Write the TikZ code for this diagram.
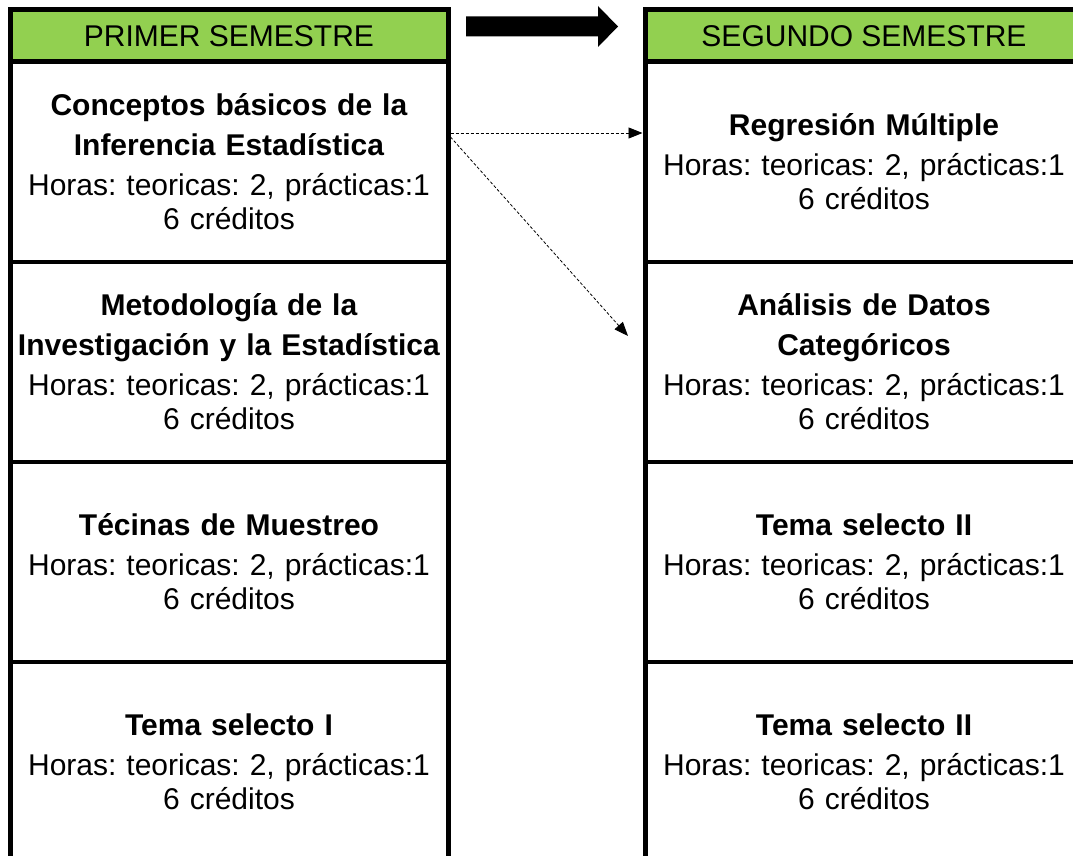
\documentclass[tikz,border=0pt]{standalone}
\usepackage{fontspec}
\setmainfont{Liberation Sans}
\usetikzlibrary{arrows.meta}
\definecolor{hdrgreen}{HTML}{92D050}
\begin{document}
\begin{tikzpicture}[x=1pt,y=-1pt,
  every node/.style={font=\fontsize{30}{34}\selectfont\frenchspacing},
  hdr/.style={draw=black, line width=5pt, fill=hdrgreen, minimum width=438pt, minimum height=52pt, inner sep=0pt, outer sep=0pt},
  course/.style={draw=black, line width=4pt, minimum width=438pt, minimum height=200pt, text width=436pt, align=center, inner sep=0pt, outer sep=0pt},
  colline/.style={line width=5pt},
  flow/.style={densely dashed, line width=0.8pt, -{Triangle[length=14pt,width=11pt]}},
]
\useasboundingbox (0,0) rectangle (1073,856);
\clip (0,0) rectangle (1073,856);

% first semester
\node[course] (L1) at (229,162) {\textbf{Conceptos básicos de la}\\[6pt]\textbf{Inferencia Estadística}\\[6pt]Horas: teoricas: 2, prácticas:1\\6 créditos};
\node[course] (L2) at (229,362) {\textbf{Metodología de la}\\[6pt]\textbf{Investigación y la Estadística}\\[6pt]Horas: teoricas: 2, prácticas:1\\6 créditos};
\node[course] (L3) at (229,562) {\textbf{Técinas de Muestreo}\\[6pt]Horas: teoricas: 2, prácticas:1\\6 créditos};
\node[course] (L4) at (229,762) {\textbf{Tema selecto I}\\[6pt]Horas: teoricas: 2, prácticas:1\\6 créditos};
\node[hdr] (H1) at (229,36) {PRIMER SEMESTRE};
\draw[colline] (H1.north west) -- (L4.south west);
\draw[colline] (H1.north east) -- (L4.south east);

% second semester
\node[course] (R1) at (864,162) {\textbf{Regresión Múltiple}\\[6pt]Horas: teoricas: 2, prácticas:1\\6 créditos};
\node[course] (R2) at (864,362) {\textbf{Análisis de Datos}\\[6pt]\textbf{Categóricos}\\[6pt]Horas: teoricas: 2, prácticas:1\\6 créditos};
\node[course] (R3) at (864,562) {\textbf{Tema selecto II}\\[6pt]Horas: teoricas: 2, prácticas:1\\6 créditos};
\node[course] (R4) at (864,762) {\textbf{Tema selecto II}\\[6pt]Horas: teoricas: 2, prácticas:1\\6 créditos};
\node[hdr] (H2) at (864,36) {SEGUNDO SEMESTRE};
\draw[colline] (H2.north west) -- (R4.south west);
\draw[colline] (H2.north east) -- (R4.south east);

% big arrow
\fill (466,16.5) -- (598,16.5) -- (598,6) -- (618,26.5) -- (598,47) -- (598,36.5) -- (466,36.5) -- cycle;

% dashed connectors
\coordinate (a2e) at (628,336);
\draw[flow] ([xshift=2.5pt,yshift=29pt]L1.east) -- ([xshift=-2.5pt,yshift=29pt]R1.west);
\draw[flow] ([xshift=2.5pt,yshift=25pt]L1.east) -- (a2e);
\end{tikzpicture}
\end{document}
